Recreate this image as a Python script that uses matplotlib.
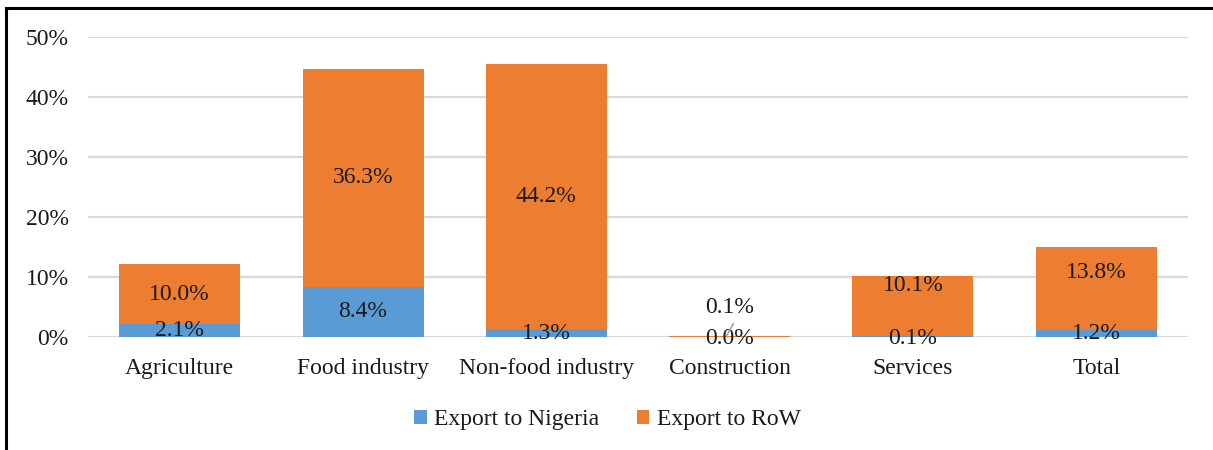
import matplotlib.pyplot as plt
from matplotlib.lines import Line2D

plt.rcParams['font.family'] = ['Liberation Serif', 'DejaVu Serif']

categories = ['Agriculture', 'Food industry', 'Non-food industry', 'Construction', 'Services', 'Total']
nigeria = [2.1, 8.4, 1.3, 0.0, 0.1, 1.2]
row = [10.0, 36.3, 44.2, 0.1, 10.1, 13.8]
series_names = ['Export to Nigeria', 'Export to RoW']
y_ticks = [0, 10, 20, 30, 40, 50]

blue = '#5B9BD5'
orange = '#ED7D31'
fs = 17
txt = '#1a1a1a'

fig = plt.figure(figsize=(12.13, 4.5), dpi=100)
ax = fig.add_axes([88 / 1213, 1 - 337 / 450, 1100 / 1213, 300 / 450])

x = list(range(len(categories)))
ax.bar(x, nigeria, width=0.66, color=blue, label=series_names[0], zorder=3)
ax.bar(x, row, width=0.66, bottom=nigeria, color=orange, label=series_names[1], zorder=3)

# data labels: centred in segments, a few nudged like the original
nig_shift = [0, 0, 0, -0.2, -0.3, 0]
row_shift = [0, 0, 0, 4.9, 3.5, 2.7]
for i in x:
    ax.text(i, nigeria[i] / 2 + nig_shift[i], f'{nigeria[i]:.1f}%', ha='center', va='center',
            fontsize=fs, color=txt, zorder=4)
    ax.text(i, nigeria[i] + row[i] / 2 + row_shift[i], f'{row[i]:.1f}%', ha='center', va='center',
            fontsize=fs, color=txt, zorder=4)

# leader line for the construction label
ax.plot([x[3] - 0.015, x[3] + 0.02], [0.3, 2.2], color='#A6A6A6', lw=1.2, zorder=4)

ax.set_xlim(-0.5, len(categories) - 0.5)
ax.set_ylim(0, 50)
ax.set_yticks(y_ticks)
ax.set_yticklabels([f'{t}%' for t in y_ticks])
ax.set_xticks(x)
ax.set_xticklabels(categories)
ax.tick_params(axis='both', length=0, labelsize=fs, colors=txt)
ax.tick_params(axis='y', pad=14)
ax.tick_params(axis='x', pad=15)
ax.grid(axis='y', color='#D9D9D9', lw=1.6, zorder=0)
for s in ax.spines.values():
    s.set_visible(False)

ax.legend(loc='center', bbox_to_anchor=(607 / 1213, 1 - 420 / 450), bbox_transform=fig.transFigure,
          ncol=2, frameon=False, fontsize=fs, handlelength=0.55, handleheight=0.55,
          handletextpad=0.3, columnspacing=1.6, labelcolor=txt)

# border of the original figure box (left and top edges visible)
fig.add_artist(Line2D([6 / 1213, 6 / 1213], [0, 1 - 8 / 450], color='black', lw=2.2))
fig.add_artist(Line2D([6 / 1213, 1], [1 - 8 / 450, 1 - 8 / 450], color='black', lw=2.2))

fig.savefig('out.png', dpi=100)
